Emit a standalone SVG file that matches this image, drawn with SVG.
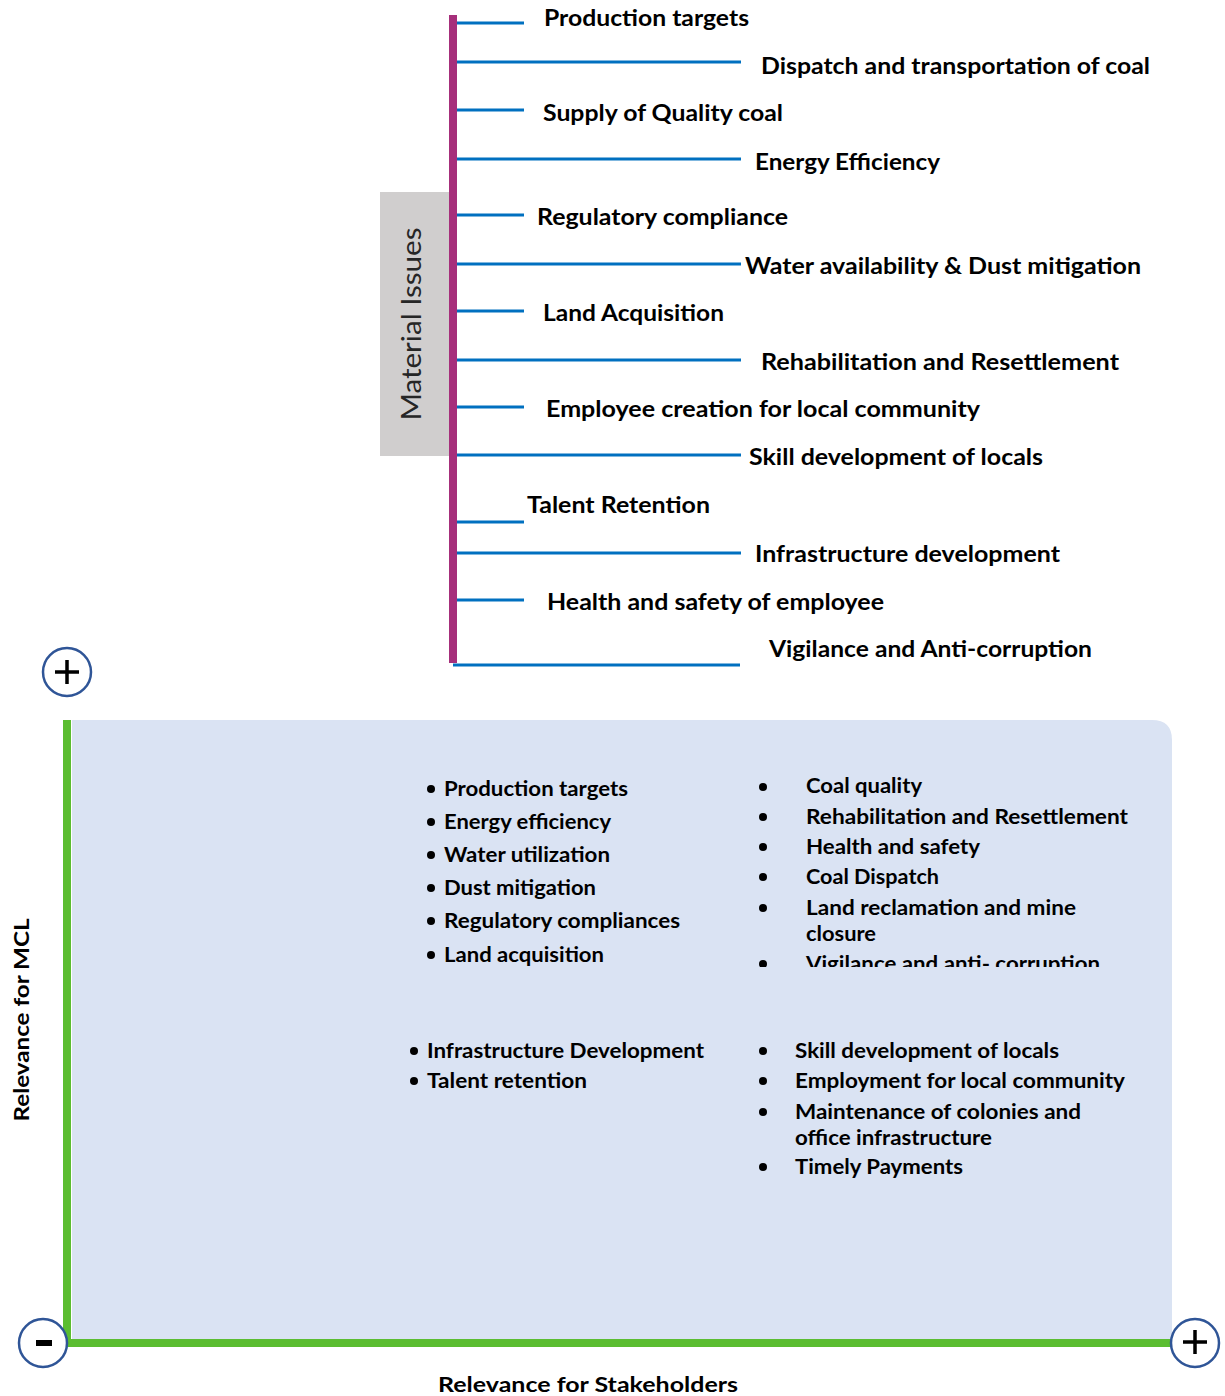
<svg xmlns="http://www.w3.org/2000/svg" width="1225" height="1396" viewBox="0 0 1225 1396">
<style>
.t{font-family:Lato,"Open Sans","Liberation Sans",sans-serif;font-weight:bold;fill:#000}
.top{font-size:22px}
.bl{font-size:20px}
.br{stroke:#0070c0;stroke-width:3;fill:none}
.circ{fill:#fff;stroke:#2f5597;stroke-width:2.5}
.sign{stroke:#000;stroke-width:3.5;fill:none}
</style>
<defs>
<clipPath id="cut"><rect x="740" y="760" width="420" height="207"/></clipPath>
</defs>
<rect width="1225" height="1396" fill="#fff"/>
<g id="material-issues">
<rect x="380" y="192" width="70" height="264" fill="#d0cece"/>
<text transform="translate(421,324) rotate(-90)" text-anchor="middle" font-family="Lato,'Open Sans',sans-serif" font-size="26" fill="#262626" textLength="193" lengthAdjust="spacingAndGlyphs">Material Issues</text>
<rect x="449" y="15" width="8" height="648" fill="#a62f7b"/>
</g>
<g id="connectors">
<line class="br" x1="457" y1="23" x2="524" y2="23"/>
<line class="br" x1="457" y1="62" x2="741" y2="62"/>
<line class="br" x1="457" y1="110" x2="524" y2="110"/>
<line class="br" x1="457" y1="159" x2="741" y2="159"/>
<line class="br" x1="457" y1="215" x2="524" y2="215"/>
<line class="br" x1="457" y1="264" x2="741" y2="264"/>
<line class="br" x1="457" y1="311" x2="524" y2="311"/>
<line class="br" x1="457" y1="360" x2="741" y2="360"/>
<line class="br" x1="457" y1="407" x2="524" y2="407"/>
<line class="br" x1="457" y1="455" x2="741" y2="455"/>
<line class="br" x1="457" y1="522" x2="524" y2="522"/>
<line class="br" x1="457" y1="553" x2="741" y2="553"/>
<line class="br" x1="457" y1="600" x2="524" y2="600"/>
<line class="br" x1="453" y1="665" x2="740" y2="665"/>
</g>
<g id="issue-labels" class="t top">
<text x="544" y="26" textLength="205" lengthAdjust="spacingAndGlyphs">Production targets</text>
<text x="761" y="74" textLength="389" lengthAdjust="spacingAndGlyphs">Dispatch and transportation of coal</text>
<text x="543" y="121" textLength="240" lengthAdjust="spacingAndGlyphs">Supply of Quality coal</text>
<text x="755" y="170" textLength="185" lengthAdjust="spacingAndGlyphs">Energy Efficiency</text>
<text x="537" y="225" textLength="251" lengthAdjust="spacingAndGlyphs">Regulatory compliance</text>
<text x="745" y="274" textLength="396" lengthAdjust="spacingAndGlyphs">Water availability &amp; Dust mitigation</text>
<text x="543" y="321" textLength="181" lengthAdjust="spacingAndGlyphs">Land Acquisition</text>
<text x="761" y="370" textLength="358" lengthAdjust="spacingAndGlyphs">Rehabilitation and Resettlement</text>
<text x="546" y="417" textLength="434" lengthAdjust="spacingAndGlyphs">Employee creation for local community</text>
<text x="749" y="465" textLength="294" lengthAdjust="spacingAndGlyphs">Skill development of locals</text>
<text x="527" y="513" textLength="183" lengthAdjust="spacingAndGlyphs">Talent Retention</text>
<text x="755" y="562" textLength="305" lengthAdjust="spacingAndGlyphs">Infrastructure development</text>
<text x="547" y="610" textLength="337" lengthAdjust="spacingAndGlyphs">Health and safety of employee</text>
<text x="769" y="657" textLength="323" lengthAdjust="spacingAndGlyphs">Vigilance and Anti-corruption</text>
</g>
<g id="matrix">
<path d="M72,720 L1152,720 Q1172,720 1172,740 L1172,1340 L72,1340 Z" fill="#dae3f3"/>
<rect x="63" y="720" width="8" height="627" fill="#5bbd31"/>
<rect x="63" y="1339" width="1109" height="8" fill="#5bbd31"/>
</g>
<g id="plus-top">
<circle class="circ" cx="67" cy="672" r="24"/>
<path class="sign" d="M55,672 H79 M67,660 V684"/>
</g>
<g id="minus-origin">
<circle class="circ" cx="43" cy="1343" r="24"/>
<rect x="36" y="1340" width="16" height="6" fill="#000"/>
</g>
<g id="plus-right">
<circle class="circ" cx="1195" cy="1343" r="24"/>
<path class="sign" d="M1183,1342 H1207 M1195,1330 V1354"/>
</g>
<g id="axis-labels" class="t bl">
<text transform="translate(29,1020) rotate(-90)" text-anchor="middle" textLength="203" lengthAdjust="spacingAndGlyphs">Relevance for MCL</text>
<text x="438" y="1392" textLength="300" lengthAdjust="spacingAndGlyphs">Relevance for Stakeholders</text>
</g>
<g id="q-top-left" class="t bl">
<circle cx="431" cy="789" r="4"/><text x="444" y="796" textLength="184" lengthAdjust="spacingAndGlyphs">Production targets</text>
<circle cx="431" cy="822" r="4"/><text x="444" y="829" textLength="167" lengthAdjust="spacingAndGlyphs">Energy efficiency</text>
<circle cx="431" cy="855" r="4"/><text x="444" y="862" textLength="166" lengthAdjust="spacingAndGlyphs">Water utilization</text>
<circle cx="431" cy="888" r="4"/><text x="444" y="895" textLength="152" lengthAdjust="spacingAndGlyphs">Dust mitigation</text>
<circle cx="431" cy="921" r="4"/><text x="444" y="928" textLength="236" lengthAdjust="spacingAndGlyphs">Regulatory compliances</text>
<circle cx="431" cy="955" r="4"/><text x="444" y="962" textLength="160" lengthAdjust="spacingAndGlyphs">Land acquisition</text>
</g>
<g id="q-top-right" class="t bl">
<circle cx="763" cy="787" r="4"/><text x="806" y="793" textLength="116" lengthAdjust="spacingAndGlyphs">Coal quality</text>
<circle cx="763" cy="817" r="4"/><text x="806" y="824" textLength="322" lengthAdjust="spacingAndGlyphs">Rehabilitation and Resettlement</text>
<circle cx="763" cy="847" r="4"/><text x="806" y="854" textLength="174" lengthAdjust="spacingAndGlyphs">Health and safety</text>
<circle cx="763" cy="877" r="4"/><text x="806" y="884" textLength="133" lengthAdjust="spacingAndGlyphs">Coal Dispatch</text>
<circle cx="763" cy="908" r="4"/><text x="806" y="915" textLength="270" lengthAdjust="spacingAndGlyphs">Land reclamation and mine</text>
<text x="806" y="941" textLength="70" lengthAdjust="spacingAndGlyphs">closure</text>
<g clip-path="url(#cut)">
<circle cx="763" cy="964" r="4"/><text x="806" y="971" textLength="294" lengthAdjust="spacingAndGlyphs">Vigilance and anti- corruption</text>
</g>
</g>
<g id="q-bottom-left" class="t bl">
<circle cx="414" cy="1051" r="4"/><text x="427" y="1058" textLength="277" lengthAdjust="spacingAndGlyphs">Infrastructure Development</text>
<circle cx="414" cy="1081" r="4"/><text x="427" y="1088" textLength="160" lengthAdjust="spacingAndGlyphs">Talent retention</text>
</g>
<g id="q-bottom-right" class="t bl">
<circle cx="763" cy="1051" r="4"/><text x="795" y="1058" textLength="264" lengthAdjust="spacingAndGlyphs">Skill development of locals</text>
<circle cx="763" cy="1081" r="4"/><text x="795" y="1088" textLength="330" lengthAdjust="spacingAndGlyphs">Employment for local community</text>
<circle cx="763" cy="1112" r="4"/><text x="795" y="1119" textLength="286" lengthAdjust="spacingAndGlyphs">Maintenance of colonies and</text>
<text x="795" y="1145" textLength="197" lengthAdjust="spacingAndGlyphs">office infrastructure</text>
<circle cx="763" cy="1167" r="4"/><text x="795" y="1174" textLength="168" lengthAdjust="spacingAndGlyphs">Timely Payments</text>
</g>
</svg>
